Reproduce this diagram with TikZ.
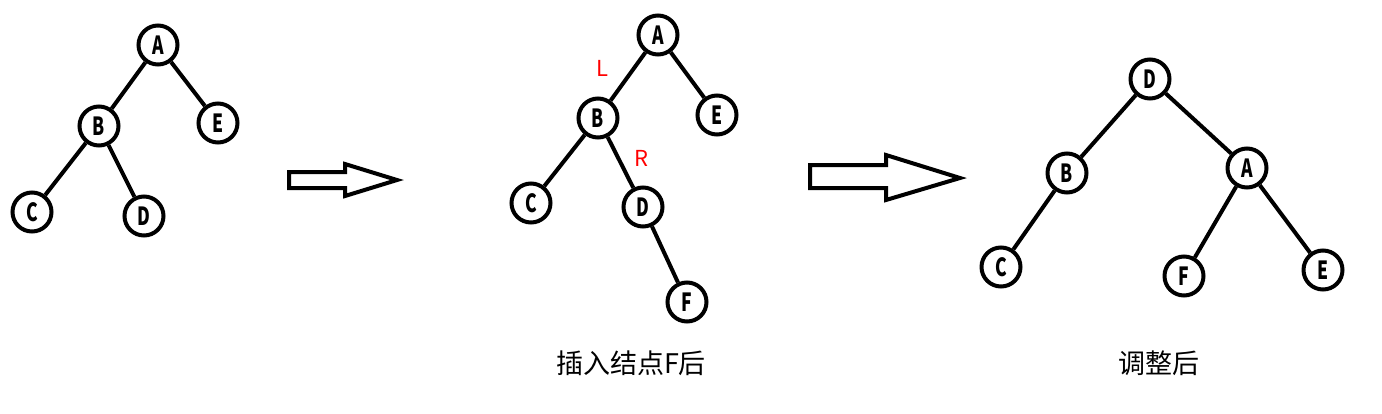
\documentclass[tikz,border=0pt]{standalone}
\usepackage{fontspec}
\usepackage{graphicx}
\setmainfont{Noto Sans CJK SC}
\usetikzlibrary{positioning}

\newcommand{\ltr}[1]{\scalebox{0.7}[1]{#1}}

\begin{document}
\begin{tikzpicture}[
    x=1pt, y=-1pt,
    knoten/.style={
        draw,
        circle,
        line width=4pt,
        minimum size=39pt,
        inner sep=0pt,
        font=\fontsize{25}{25}\selectfont\bfseries
    },
    kante/.style={line width=4pt},
    pfeil/.style={line width=4pt, line join=miter},
    seite/.style={text=red, font=\fontsize{22}{22}\selectfont},
    titel/.style={font=\fontsize{27}{27}\selectfont}
]
\useasboundingbox (0,0) rectangle (1382,413);

% before insertion
\node[knoten] (A1) at (158,45)  {\ltr{A}};
\node[knoten] (B1) at (99,126)  {\ltr{B}};
\node[knoten] (E1) at (218,123) {\ltr{E}};
\node[knoten] (C1) at (32,212)  {\ltr{C}};
\node[knoten] (D1) at (144,216) {\ltr{D}};

\draw[kante] (A1) -- (B1);
\draw[kante] (A1) -- (E1);
\draw[kante] (B1) -- (C1);
\draw[kante] (B1) -- (D1);

\draw[pfeil] (289,172) -- (345,172) -- (345,164) -- (397,180)
    -- (345,196) -- (345,188) -- (289,188) -- cycle;

% after inserting F
\node[knoten] (A2) at (658,35)  {\ltr{A}};
\node[knoten] (B2) at (598,118) {\ltr{B}};
\node[knoten] (E2) at (717,115) {\ltr{E}};
\node[knoten] (C2) at (531,203) {\ltr{C}};
\node[knoten] (D2) at (643,207) {\ltr{D}};
\node[knoten] (F2) at (687,302) {\ltr{F}};

\draw[kante] (A2) -- (B2);
\draw[kante] (A2) -- (E2);
\draw[kante] (B2) -- (C2);
\draw[kante] (B2) -- (D2);
\draw[kante] (D2) -- (F2);

\node[seite] (L) at (602,68)  {L};
\node[seite] (R) at (641,158) {R};

\node[titel] (t2) at (631,363) {插入结点F后};

\draw[pfeil] (810,165) -- (886,165) -- (886,155) -- (960,178)
    -- (886,200) -- (886,188) -- (810,188) -- cycle;

% after rotation
\node[knoten] (D3) at (1150,79)  {\ltr{D}};
\node[knoten] (B3) at (1067,173) {\ltr{B}};
\node[knoten] (A3) at (1247,168) {\ltr{A}};
\node[knoten] (C3) at (1001,267) {\ltr{C}};
\node[knoten] (F3) at (1184,276) {\ltr{F}};
\node[knoten] (E3) at (1323,270) {\ltr{E}};

\draw[kante] (D3) -- (B3);
\draw[kante] (D3) -- (A3);
\draw[kante] (B3) -- (C3);
\draw[kante] (A3) -- (F3);
\draw[kante] (A3) -- (E3);

\node[titel] (t3) at (1159,363) {调整后};

\end{tikzpicture}
\end{document}
